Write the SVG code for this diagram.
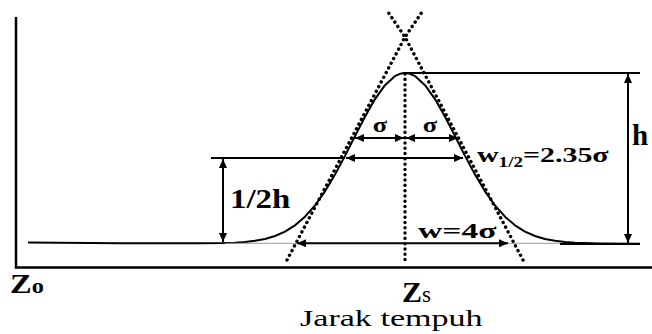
<svg xmlns="http://www.w3.org/2000/svg" width="652" height="334" viewBox="0 0 652 334">
<style>
.ln{stroke:#000;stroke-width:2;fill:none}
.ax{stroke:#000;stroke-width:2.5;fill:none}
.dot{stroke:#000;stroke-width:3.4;fill:none;stroke-dasharray:0.1 5.2;stroke-linecap:round}
.thin{stroke:#999;stroke-width:1;fill:none}
</style>
<defs>
<marker id="ah" markerUnits="userSpaceOnUse" markerWidth="9" markerHeight="8" refX="9" refY="4" orient="auto-start-reverse">
<path d="M0,0 L9,4 L0,8 z" fill="#000"/>
</marker>
</defs>
<rect width="652" height="334" fill="#fff"/>
<g id="axes">
<path class="ax" d="M16,17 V267.5 H652"/>
</g>
<g id="curve">
<path class="ln" stroke-width="2.5" stroke-linejoin="round" d="M28,242.4 L120,243.2 L200,243.3 L225,243.1 L235,242.7 L245,242.0 L255,240.8 L265,239.0 L275,236.0 L285,231.6 L295,225.3 L305,216.7 L315,205.4 L325,191.3 L335,174.6 L345,155.9 L355,136.1 L365,116.7 L375,99.1 L385,85.2 L395,76.1 L400,73.8 L405,73 L410,73.8 L415,76.1 L425,85.2 L435,99.1 L445,116.7 L455,136.1 L465,155.9 L475,174.6 L485,191.3 L495,205.4 L505,216.7 L515,225.3 L525,231.6 L535,236.0 L545,239.0 L555,240.8 L565,242.0 L575,242.7 L585,243.1 L600,243.5 L640,243.7"/>
</g>
<g id="connectors">
<path class="thin" d="M225,243.3 H300 M508,243.3 H560"/>
<polyline class="dot" points="287,260 405,37 422,12"/>
<polyline class="dot" points="523,260 405,37 388,12"/>
<line class="dot" x1="405" y1="74" x2="405" y2="264"/>
<line class="ln" x1="403" y1="73" x2="640" y2="73"/>
<line class="ln" x1="560" y1="244" x2="640" y2="244"/>
<line class="ln" x1="211" y1="158" x2="345" y2="158"/>
<line class="ln" x1="628" y1="74" x2="628" y2="243" marker-start="url(#ah)" marker-end="url(#ah)"/>
<line class="ln" x1="223" y1="159" x2="223" y2="242" marker-start="url(#ah)" marker-end="url(#ah)"/>
<line class="ln" x1="346" y1="158" x2="463" y2="158" marker-start="url(#ah)" marker-end="url(#ah)"/>
<line class="ln" x1="355" y1="138" x2="404" y2="138" marker-start="url(#ah)" marker-end="url(#ah)"/>
<line class="ln" x1="406" y1="138" x2="458" y2="138" marker-start="url(#ah)" marker-end="url(#ah)"/>
<line class="ln" x1="297" y1="243.3" x2="508" y2="243.3" marker-start="url(#ah)" marker-end="url(#ah)"/>
</g>
<g font-family="Liberation Serif, serif" font-weight="bold" fill="#000">
<g id="label-sigma-left"><text font-size="22" text-anchor="middle" transform="translate(380,132) scale(1.2,1)">σ</text></g>
<g id="label-sigma-right"><text font-size="22" text-anchor="middle" transform="translate(430,132) scale(1.2,1)">σ</text></g>
<g id="label-whalf"><text font-size="22" transform="translate(477,162) scale(1.36,1)">w<tspan font-size="14" dy="5">1/2</tspan><tspan dy="-5">=2.35σ</tspan></text></g>
<g id="label-half-h"><text font-size="27" transform="translate(230,208) scale(1.22,1)">1/2h</text></g>
<g id="label-h"><text font-size="29" x="632" y="145">h</text></g>
<g id="label-w"><text font-size="21" transform="translate(418,238) scale(1.6,1)">w=4σ</text></g>
<g id="label-zo"><text font-size="28" transform="translate(10,293) scale(1.16,1)">Z<tspan font-size="21">o</tspan></text></g>
<g id="label-zs"><text font-size="30" x="402" y="302">Z<tspan font-weight="normal" font-size="23">s</tspan></text></g>
<g id="label-axis"><text font-weight="normal" font-size="24" transform="translate(300,326) scale(1.42,1)">Jarak tempuh</text></g>
</g>
</svg>
